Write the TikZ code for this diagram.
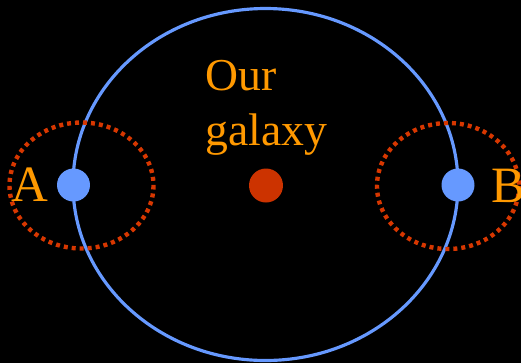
\documentclass[tikz,border=0pt]{standalone}
\usepackage{fontspec}
\setmainfont{Liberation Serif}
\usepackage{tikz}
\usetikzlibrary{positioning}
\definecolor{myorbit}{RGB}{102,153,255}
\definecolor{myred}{RGB}{204,51,0}
\definecolor{mydots}{RGB}{215,55,0}
\definecolor{myorange}{RGB}{255,153,0}
\tikzset{
  starnode/.style={circle, fill=myorbit, inner sep=0pt, minimum size=0.66cm},
  corenode/.style={circle, fill=myred, inner sep=0pt, minimum size=0.68cm},
  orbitline/.style={draw=myorbit, line width=1.8pt},
  haloline/.style={draw=mydots, line width=2.5pt, dash pattern=on 0.08cm off 0.08cm},
  biglabel/.style={text=myorange, inner sep=0pt, font=\fontsize{29pt}{34pt}\selectfont},
  textlabel/.style={text=myorange, inner sep=0pt, align=left,
    font=\fontsize{26pt}{31.3pt}\selectfont}
}

\begin{document}
\begin{tikzpicture}[x=0.02cm, y=-0.02cm]
  % background
  \fill[black] (0,0) rectangle (521,363);
  \useasboundingbox (0,0) rectangle (521,363);
  % orbit of the two stars
  \draw[orbitline] (265.5,184.5) ellipse [x radius=192.5, y radius=176];
  % dotted regions round A and B
  \draw[haloline] (81.5,185.5) ellipse [x radius=72, y radius=63];
  \draw[haloline] (448,186) ellipse [x radius=71, y radius=63];
  % centre of the galaxy and the two stars
  \node[corenode] (core) at (266,185.5) {};
  \node[starnode] (starA) at (73.5,185) {};
  \node[starnode] (starB) at (458,185) {};
  % labels
  \node[biglabel, anchor=base] (labA) at (29.5,201) {A};
  \node[biglabel, anchor=base west] (labB) at (491,202) {B};
  \node[textlabel, anchor=base west] (galaxy) at (205,145) {Our\\galaxy};
\end{tikzpicture}
\end{document}
